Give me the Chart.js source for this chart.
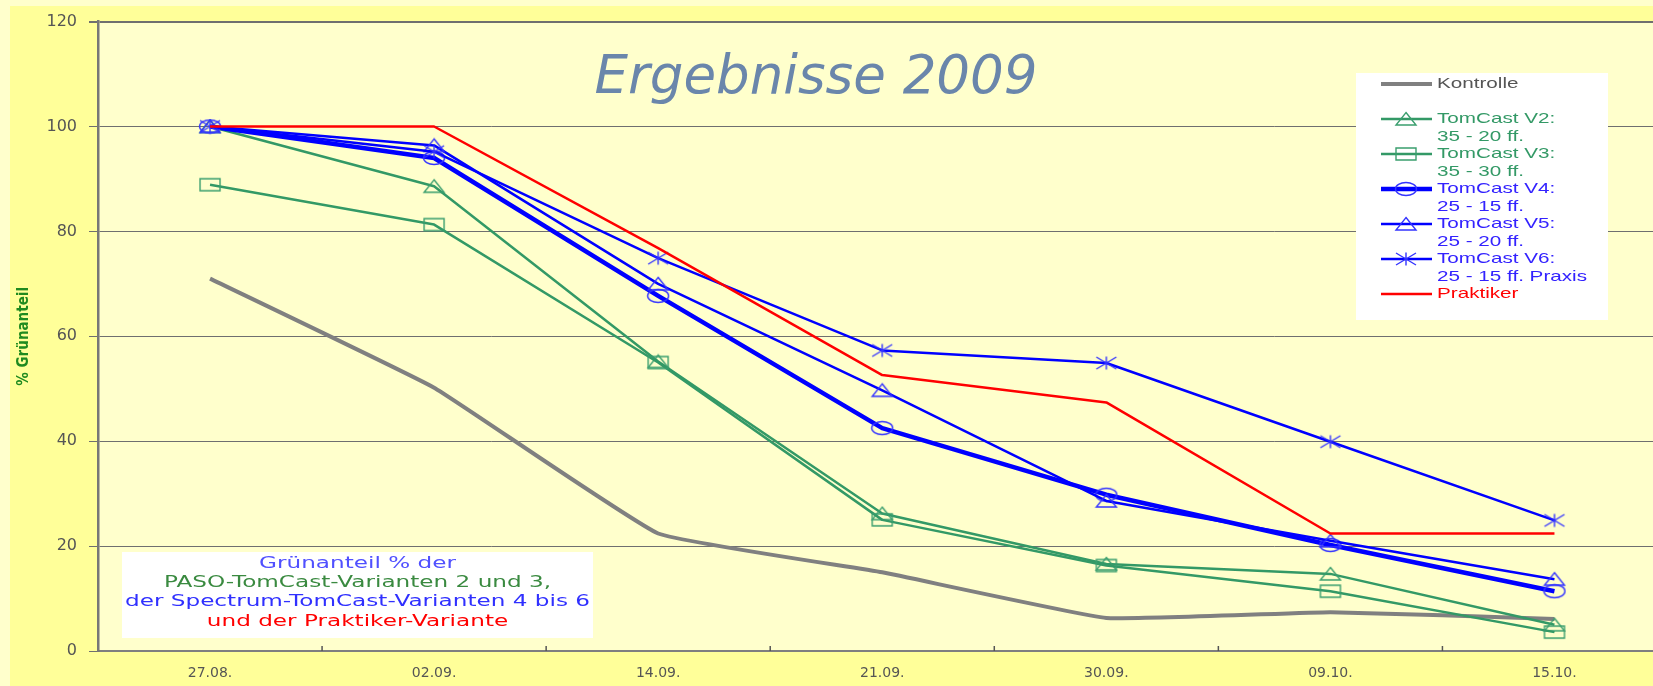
<!DOCTYPE html>
<html>
<head>
<meta charset="utf-8">
<script src="https://cdn.jsdelivr.net/npm/chart.js@4.4.1/dist/chart.umd.min.js"></script>
<style>
    html, body { margin: 0; padding: 0; overflow: hidden; background: #ffffcc; }
    #wrap { position: relative; width: 1677px; height: 686px; }
</style>
</head>
<body>
<div id="wrap"><canvas id="chart"></canvas></div>
<script>
// Daten
const categories = ['27.08.', '02.09.', '14.09.', '21.09.', '30.09.', '09.10.', '15.10.'];
const kontrolle = [71, 50.2, 22.4, 15, 6.3, 7.4, 6.1];
const tomcastV2 = [100, 88.6, 55.2, 26.2, 16.6, 14.7, 5];
const tomcastV3 = [88.9, 81.3, 55, 25, 16.3, 11.4, 3.6];
const tomcastV4 = [100, 94, 67.7, 42.5, 29.8, 20.2, 11.4];
const tomcastV5 = [100, 96.4, 70, 49.7, 28.6, 21, 13.7];
const tomcastV6 = [100, 95.2, 74.9, 57.3, 54.9, 39.9, 24.9];
const praktiker = [100, 100, 76.8, 52.6, 47.4, 22.4, 22.4];

const seriesNames = [
    ['Kontrolle', ''],
    ['TomCast V2:', '35 - 20 ff.'],
    ['TomCast V3:', '35 - 30 ff.'],
    ['TomCast V4:', '25 - 15 ff.'],
    ['TomCast V5:', '25 - 20 ff.'],
    ['TomCast V6:', '25 - 15 ff. Praxis'],
    ['Praktiker']
];
const legendColors = ['#555555', '#339966', '#339966', '#3322ff', '#3322ff', '#3322ff', '#ff0000'];

const noteLines = [
    { text: 'Grünanteil % der', color: '#5050ff' },
    { text: 'PASO-TomCast-Varianten 2 und 3,', color: '#3a8a40' },
    { text: 'der Spectrum-TomCast-Varianten 4 bis 6', color: '#3030ff' },
    { text: 'und der Praktiker-Variante', color: '#ff0000' }
];

// Marker wie in Excel (leicht in die Breite gezogen)
function makeMarker(kind, color) {
    const c = document.createElement('canvas');
    c.width = 24;
    c.height = 16;
    const g = c.getContext('2d');
    g.strokeStyle = color;
    g.lineWidth = 1.4;
    const cx = 12, cy = 8;
    g.beginPath();
    if (kind === 'triangle') {
        g.moveTo(cx, cy - 6.5);
        g.lineTo(cx + 10, cy + 6);
        g.lineTo(cx - 10, cy + 6);
        g.closePath();
    } else if (kind === 'square') {
        g.rect(cx - 10, cy - 6, 20, 12);
    } else if (kind === 'circle') {
        g.ellipse(cx, cy, 10.5, 6.5, 0, 0, Math.PI * 2);
    } else if (kind === 'star') {
        g.moveTo(cx, cy - 6.5); g.lineTo(cx, cy + 6.5);
        g.moveTo(cx - 10, cy - 6); g.lineTo(cx + 10, cy + 6);
        g.moveTo(cx - 10, cy + 6); g.lineTo(cx + 10, cy - 6);
    }
    g.stroke();
    return c;
}

const green = '#339966';
const blue = '#0000ff';

function series(label, data, color, width, marker, order, extra) {
    return Object.assign({
        label: label,
        data: data,
        borderColor: color,
        backgroundColor: color,
        borderWidth: width,
        borderJoinStyle: 'round',
        pointStyle: marker || 'circle',
        pointRadius: marker ? 6 : 0,
        pointHoverRadius: marker ? 6 : 0,
        tension: 0,
        order: order
    }, extra || {});
}

const datasets = [
    series('Kontrolle', kontrolle, '#808080', 4, null, 6, { tension: 0.1 }),
    series('TomCast V2', tomcastV2, green, 2.5, makeMarker('triangle', '#3a9e6e'), 5),
    series('TomCast V3', tomcastV3, green, 2.5, makeMarker('square', '#3a9e6e'), 4),
    series('TomCast V4', tomcastV4, blue, 4.5, makeMarker('circle', '#3333ff'), 3),
    series('TomCast V5', tomcastV5, blue, 2.5, makeMarker('triangle', '#3333ff'), 2),
    series('TomCast V6', tomcastV6, blue, 2.5, makeMarker('star', '#3333ff'), 1),
    series('Praktiker', praktiker, '#ff0000', 2.5, null, 0)
];

// Hintergründe
const backgrounds = {
    id: 'backgrounds',
    beforeDraw(chart) {
        const { ctx, width, height, chartArea } = chart;
        ctx.save();
        ctx.fillStyle = '#ffffcc';
        ctx.fillRect(0, 0, width, height);
        ctx.fillStyle = '#ffff99';
        ctx.fillRect(10, 6, width - 10, height - 6);
        ctx.fillStyle = '#ffffcc';
        ctx.fillRect(chartArea.left, chartArea.top, chartArea.right - chartArea.left, chartArea.bottom - chartArea.top);
        ctx.restore();
    }
};

// kleine Teilstriche nach innen auf der x-Achse
const innerTicks = {
    id: 'innerTicks',
    afterDraw(chart) {
        const { ctx, chartArea } = chart;
        const xs = chart.scales.x;
        ctx.save();
        ctx.strokeStyle = '#555555';
        ctx.lineWidth = 1.5;
        for (let i = 0; i < categories.length - 1; i++) {
            const x = (xs.getPixelForValue(i) + xs.getPixelForValue(i + 1)) / 2;
            ctx.beginPath();
            ctx.moveTo(x, chartArea.bottom - 5);
            ctx.lineTo(x, chartArea.bottom);
            ctx.stroke();
        }
        ctx.restore();
    }
};

// Titel, Legende und Hinweisbox
const overlays = {
    id: 'overlays',
    afterDraw(chart) {
        const ctx = chart.ctx;
        ctx.save();

        // Titel
        ctx.font = 'italic 53px "DejaVu Sans", Verdana, sans-serif';
        ctx.fillStyle = '#6a86ab';
        ctx.textAlign = 'center';
        ctx.textBaseline = 'alphabetic';
        ctx.fillText('Ergebnisse 2009', 816, 93);

        // Legende
        ctx.fillStyle = '#ffffff';
        ctx.fillRect(1356, 73, 252, 247);
        ctx.font = '15px "Liberation Sans", Arial, sans-serif';
        ctx.textAlign = 'left';
        ctx.textBaseline = 'middle';
        const sx = 150 / ctx.measureText('25 - 15 ff. Praxis').width;
        const pitch = 17.5;
        let y = 84;
        chart.data.datasets.forEach((ds, i) => {
            ctx.strokeStyle = ds.borderColor;
            ctx.lineWidth = ds.borderWidth;
            ctx.beginPath();
            ctx.moveTo(1381, y);
            ctx.lineTo(1432, y);
            ctx.stroke();
            if (ds.pointRadius > 0) {
                const m = ds.pointStyle;
                ctx.drawImage(m, 1406 - m.width / 2, y - m.height / 2);
            }
            ctx.fillStyle = legendColors[i];
            seriesNames[i].forEach((line, k) => {
                ctx.save();
                ctx.translate(1437, y + k * pitch);
                ctx.scale(sx, 1);
                ctx.fillText(line, 0, 0);
                ctx.restore();
            });
            y += seriesNames[i].length * pitch;
        });

        // Hinweisbox unten links
        ctx.fillStyle = '#ffffff';
        ctx.fillRect(122, 552, 471, 86);
        ctx.font = '16px "DejaVu Sans", Verdana, sans-serif';
        ctx.textAlign = 'center';
        const nx = 465 / ctx.measureText(noteLines[2].text).width;
        const noteY = [564, 583, 602, 622];
        noteLines.forEach((ln, i) => {
            ctx.save();
            ctx.translate(357.5, noteY[i]);
            ctx.scale(nx, 1);
            ctx.fillStyle = ln.color;
            ctx.fillText(ln.text, 0, 0);
            ctx.restore();
        });

        ctx.restore();
    }
};

new Chart(document.getElementById('chart'), {
    type: 'line',
    data: { labels: categories, datasets: datasets },
    options: {
        responsive: true,
        maintainAspectRatio: false,
        animation: false,
        layout: { padding: { top: 20, left: 0, right: 0, bottom: 0 } },
        plugins: {
            legend: { display: false },
            tooltip: { enabled: false }
        },
        scales: {
            x: {
                offset: true,
                grid: { display: true, drawOnChartArea: false, drawTicks: false },
                border: { color: '#7f7f7f', width: 2 },
                ticks: {
                    color: '#555555',
                    font: { family: '"DejaVu Sans", Verdana, sans-serif', size: 14 },
                    padding: 14,
                    maxRotation: 0,
                    autoSkip: false
                },
                afterFit(scale) { scale.height = 35; }
            },
            y: {
                min: 0,
                max: 120,
                ticks: {
                    stepSize: 20,
                    color: '#555555',
                    font: { family: '"DejaVu Sans", Verdana, sans-serif', size: 16 },
                    padding: 12
                },
                grid: {
                    color: '#6f6f6f',
                    lineWidth: ctx => (ctx.tick && ctx.tick.value === 120 ? 2 : 1),
                    tickLength: 9
                },
                border: { color: '#777777', width: 2.5 },
                title: {
                    display: true,
                    text: '% Grünanteil',
                    color: '#1f8a1f',
                    font: { family: '"Liberation Sans Narrow", "DejaVu Sans Condensed", sans-serif', size: 15, weight: 'bold' },
                    padding: { top: 15, bottom: 0 }
                },
                afterFit(scale) { scale.width = 98; }
            }
        }
    },
    plugins: [backgrounds, innerTicks, overlays]
});
</script>
</body>
</html>
